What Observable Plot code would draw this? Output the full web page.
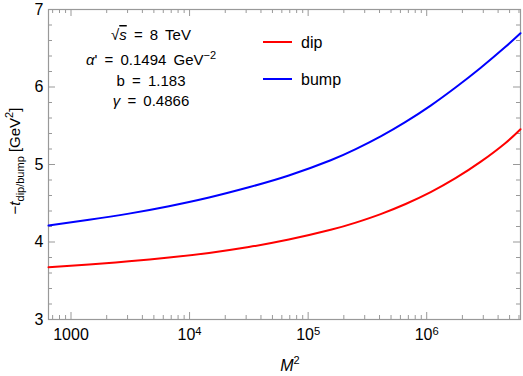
<!DOCTYPE html>
<html><head><meta charset="utf-8">
<script src="https://cdn.jsdelivr.net/npm/d3@7"></script>
<script src="https://cdn.jsdelivr.net/npm/@observablehq/plot@0.6"></script>
<style>body{margin:0;background:#fff} svg{font-family:"Liberation Sans",Arial,sans-serif}</style>
</head><body><div id="chart"></div>
<script>
// Data
const m2   = [646, 1420, 3080, 6700, 14600, 31600, 68700, 155000, 252000, 409000, 664000, 1.08e6, 1.75e6, 2.84e6, 4.62e6, 6.18e6];
const dip  = [3.675, 3.711, 3.751, 3.799, 3.859, 3.935, 4.031, 4.157, 4.25, 4.36, 4.49, 4.643, 4.823, 5.033, 5.278, 5.455];
const bump = [4.213, 4.286, 4.366, 4.462, 4.574, 4.706, 4.858, 5.055, 5.198, 5.363, 5.55, 5.76, 5.993, 6.245, 6.518, 6.693];
const series = ["dip", "bump"];
const colors = ["#ff0000", "#0000ff"];
const xMajor = [1000, 1e4, 1e5, 1e6];
const xMinor = [700, 800, 900, 2000, 3000, 4000, 5000, 6000, 7000, 8000, 9000,
  2e4, 3e4, 4e4, 5e4, 6e4, 7e4, 8e4, 9e4, 2e5, 3e5, 4e5, 5e5, 6e5, 7e5, 8e5, 9e5,
  2e6, 3e6, 4e6, 5e6, 6e6];
const yMajor = [3, 4, 5, 6, 7];
const yMinor = [3.2, 3.4, 3.6, 3.8, 4.2, 4.4, 4.6, 4.8, 5.2, 5.4, 5.6, 5.8, 6.2, 6.4, 6.6, 6.8];
const params = ["√s = 8 TeV", "α' = 0.1494 GeV^−2", "b = 1.183", "γ = 0.4866"];

const W = 523, H = 376, mL = 48, mR = 3, mT = 9, mB = 57;
const fw = W - mL - mR, fh = H - mT - mB;
const axisColor = "#999";

const data = m2.flatMap((m, i) => [{m, v: dip[i], s: "dip"}, {m, v: bump[i], s: "bump"}]);

const fmtX = d => d === 1000 ? "1000" : "10^" + Math.round(Math.log10(d));

const chart = Plot.plot({
  width: W, height: H, marginLeft: mL, marginRight: mR, marginTop: mT, marginBottom: mB,
  style: {fontFamily: "Liberation Sans, Arial, sans-serif", fontSize: "16px", color: "#000", background: "#fff"},
  x: {type: "log", domain: [646, 6.18e6]},
  y: {domain: [3, 7]},
  color: {domain: series, range: colors},
  marks: [
    Plot.axisX(xMajor, {tickSize: 0, tickPadding: 9, tickFormat: fmtX, fontSize: 16, label: null}),
    Plot.axisY(yMajor, {tickSize: 0, tickPadding: 5, tickFormat: d3.format("d"), fontSize: 16, label: null}),
    Plot.tickX(xMajor, {x: d => d, insetTop: fh - 7, stroke: axisColor}),
    Plot.tickX(xMajor, {x: d => d, insetBottom: fh - 7, stroke: axisColor}),
    Plot.tickX(xMinor, {x: d => d, insetTop: fh - 4, stroke: axisColor}),
    Plot.tickX(xMinor, {x: d => d, insetBottom: fh - 4, stroke: axisColor}),
    Plot.tickY(yMajor, {y: d => d, insetRight: fw - 7, stroke: axisColor}),
    Plot.tickY(yMajor, {y: d => d, insetLeft: fw - 7, stroke: axisColor}),
    Plot.tickY(yMinor, {y: d => d, insetRight: fw - 4, stroke: axisColor}),
    Plot.tickY(yMinor, {y: d => d, insetLeft: fw - 4, stroke: axisColor}),
    Plot.frame({stroke: axisColor, strokeWidth: 1.2}),
    Plot.line(data, {x: "m", y: "v", z: "s", stroke: "s", strokeWidth: 2, curve: "natural"})
  ]
});

document.getElementById("chart").appendChild(chart);
const svg = d3.select(chart);

// superscripts in x tick labels
svg.selectAll('g[aria-label="x-axis tick label"] text').each(function () {
  const t = d3.select(this);
  const s = t.text();
  if (s.includes("^")) {
    const [b, e] = s.split("^");
    t.text(null);
    t.append("tspan").text(b);
    t.append("tspan").attr("dy", "-0.45em").attr("font-size", "0.7em").text(e);
  }
});

// y label
const yl = svg.append("text")
  .attr("transform", `translate(20,${mT + fh / 2 - 3}) rotate(-90)`)
  .attr("text-anchor", "middle").attr("font-size", 15).attr("fill", "#000");
yl.append("tspan").text("−");
yl.append("tspan").attr("font-style", "italic").text("t");
yl.append("tspan").attr("font-size", 11).attr("dy", 4).text("dip/bump");
yl.append("tspan").attr("dy", -4).text(" [GeV");
yl.append("tspan").attr("font-size", 11).attr("dy", -7).text("2");
yl.append("tspan").attr("dy", 7).text("]");

// x label
const xl = svg.append("text")
  .attr("x", mL + fw / 2 + 6).attr("y", H - 5)
  .attr("text-anchor", "middle").attr("font-size", 16).attr("fill", "#000");
xl.append("tspan").attr("font-style", "italic").text("M");
xl.append("tspan").attr("font-size", 11).attr("dy", -7).text("2");

// parameter annotation
const ax = mL + 103, ys = [40, 65, 86, 106];
params.forEach((p, i) => {
  const t = svg.append("text").attr("x", ax).attr("y", ys[i])
    .attr("text-anchor", "middle").attr("font-size", 15).attr("word-spacing", 3).attr("fill", "#000");
  if (i === 0) {
    t.append("tspan").text("√");
    t.append("tspan").attr("font-style", "italic").attr("text-decoration", "overline").text("s");
    t.append("tspan").text(p.slice(2));
  } else if (i === 1) {
    const [a, e] = p.split("^");
    t.append("tspan").attr("font-style", "italic").text("α");
    t.append("tspan").text(a.slice(1));
    t.append("tspan").attr("font-size", 11).attr("dy", -6).text(e);
  } else if (i === 3) {
    t.append("tspan").attr("font-style", "italic").text("γ");
    t.append("tspan").text(p.slice(1));
  } else {
    t.text(p);
  }
});

// legend
series.forEach((s, i) => {
  const y = 42 + i * 37;
  svg.append("line").attr("x1", 263).attr("x2", 292).attr("y1", y).attr("y2", y)
    .attr("stroke", colors[i]).attr("stroke-width", 2);
  svg.append("text").attr("x", 301).attr("y", y).attr("dy", "0.35em")
    .attr("text-anchor", "start").attr("font-size", 16).attr("fill", "#000").text(s);
});
</script>
</body></html>
